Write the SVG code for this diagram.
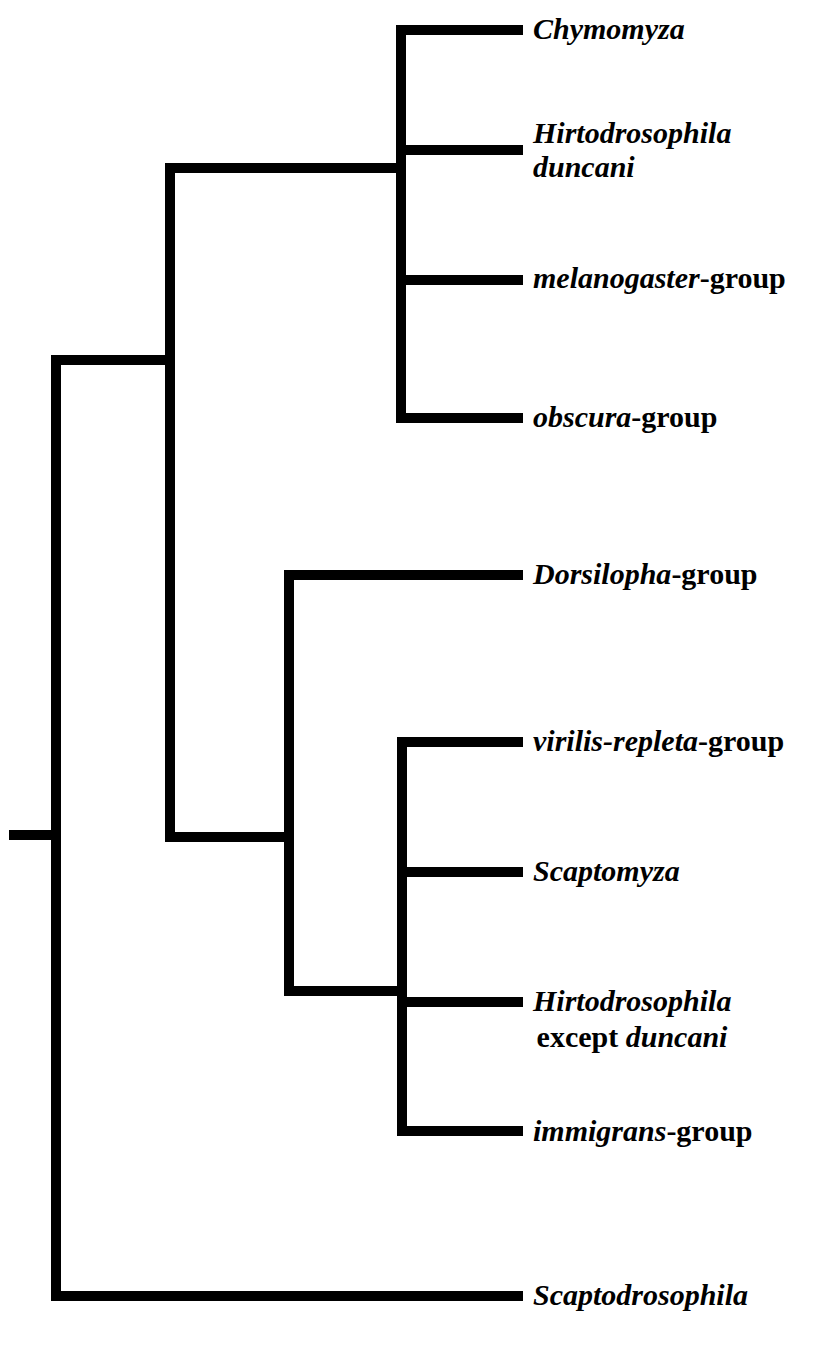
<svg xmlns="http://www.w3.org/2000/svg" width="820" height="1366" viewBox="0 0 820 1366">
<style>
.br{fill:none;stroke:#000;stroke-width:10;stroke-linecap:butt;stroke-linejoin:miter}
.lb{font-family:'Liberation Serif','DejaVu Serif',serif;font-size:30px;font-weight:700;fill:#000}
.it{font-style:italic}
</style>
<rect width="820" height="1366" fill="#fff"/>
<g id="connectors">
<path class="br" d="M9,835H56"/>
<path class="br" d="M170,360H56V1296H523"/>
<path class="br" d="M401,168H170V837H289"/>
<path class="br" d="M523,30H401V418H523"/>
<path class="br" d="M401,150H523M401,280H523"/>
<path class="br" d="M523,575H289V991H402"/>
<path class="br" d="M523,742H402V1131H523"/>
<path class="br" d="M402,872H523M402,1002H523"/>
</g>
<g id="chymomyza"><text class="lb it" font-family="Liberation Serif" x="533" y="39">Chymomyza</text></g>
<g id="hirtodrosophila-duncani"><text class="lb it" font-family="Liberation Serif" x="533" y="143">Hirtodrosophila</text><text class="lb it" font-family="Liberation Serif" x="533" y="177">duncani</text></g>
<g id="melanogaster"><text class="lb" font-family="Liberation Serif" x="533" y="288"><tspan class="it">melanogaster</tspan>-group</text></g>
<g id="obscura"><text class="lb" font-family="Liberation Serif" x="533" y="427"><tspan class="it">obscura</tspan>-group</text></g>
<g id="dorsilopha"><text class="lb" font-family="Liberation Serif" x="533" y="584"><tspan class="it">Dorsilopha</tspan>-group</text></g>
<g id="virilis-repleta"><text class="lb" font-family="Liberation Serif" x="533" y="751"><tspan class="it">virilis-repleta</tspan>-group</text></g>
<g id="scaptomyza"><text class="lb it" font-family="Liberation Serif" x="533" y="881">Scaptomyza</text></g>
<g id="hirtodrosophila-except"><text class="lb it" font-family="Liberation Serif" x="533" y="1011">Hirtodrosophila</text><text class="lb" font-family="Liberation Serif" x="632" y="1047" text-anchor="middle">except <tspan class="it">duncani</tspan></text></g>
<g id="immigrans"><text class="lb" font-family="Liberation Serif" x="533" y="1141"><tspan class="it">immigrans</tspan>-group</text></g>
<g id="scaptodrosophila"><text class="lb it" font-family="Liberation Serif" x="533" y="1305">Scaptodrosophila</text></g>
</svg>
